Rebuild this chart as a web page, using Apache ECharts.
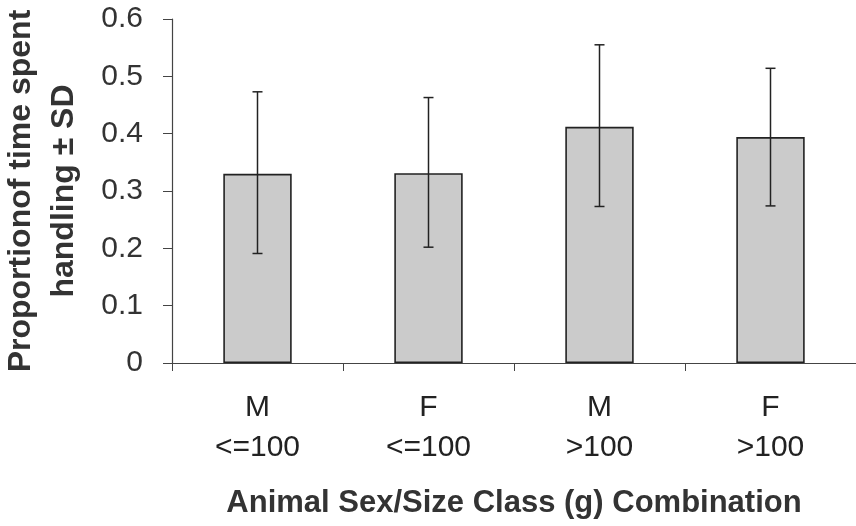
<!DOCTYPE html>
<html>
<head>
<meta charset="utf-8">
<script src="https://cdn.jsdelivr.net/npm/echarts@6/dist/echarts.min.js"></script>
<style>html,body{margin:0;padding:0;background:#fff}#c{width:856px;height:526px}</style>
</head>
<body>
<div id="c"></div>
<script>
var categories = ['M\n<=100', 'F\n<=100', 'M\n>100', 'F\n>100'];
var means = [0.330, 0.331, 0.412, 0.394];
var sdLow = [0.191, 0.202, 0.273, 0.274];
var sdHigh = [0.473, 0.463, 0.555, 0.514];
var yTicks = [0, 0.1, 0.2, 0.3, 0.4, 0.5, 0.6];

var errData = means.map(function (m, i) { return [i, sdLow[i], sdHigh[i]]; });

var chart = echarts.init(document.getElementById('c'), null, { renderer: 'canvas' });
chart.setOption({
  animation: false,
  backgroundColor: '#fff',
  textStyle: { fontFamily: 'Liberation Sans, Arial, sans-serif' },
  grid: { left: 172, right: 0, top: 19, bottom: 163, containLabel: false, outerBoundsMode: 'none' },
  xAxis: {
    type: 'category',
    data: categories,
    boundaryGap: true,
    axisLine: { lineStyle: { color: '#444', width: 1.2 } },
    axisTick: { show: true, interval: 0, length: 8, lineStyle: { color: '#444' } },
    axisLabel: { interval: 0, fontSize: 30, color: '#222', lineHeight: 40, margin: 25 },
    name: 'Animal Sex/Size Class (g) Combination',
    nameLocation: 'middle',
    nameGap: 125,
    nameTextStyle: { fontSize: 31, fontWeight: 'bold', color: '#333' }
  },
  yAxis: {
    type: 'value',
    min: yTicks[0],
    max: yTicks[yTicks.length - 1],
    interval: 0.1,
    splitLine: { show: false },
    axisLine: { show: true, lineStyle: { color: '#444', width: 1.2 } },
    axisTick: { show: true, length: 9, lineStyle: { color: '#444' } },
    axisLabel: { fontSize: 30, color: '#333', margin: 29,
      formatter: function (v) { return String(Math.round(v * 10) / 10); } },
    name: 'Proportionof time spent\nhandling \u00b1 SD',
    nameLocation: 'middle',
    nameGap: 86,
    nameRotate: 90,
    nameTextStyle: { fontSize: 32, fontWeight: 'bold', color: '#333', lineHeight: 43 }
  },
  series: [
    {
      type: 'bar',
      data: means,
      barWidth: '40%',
      itemStyle: { color: '#cbcbcb', borderColor: '#222', borderWidth: 1.6 }
    },
    {
      type: 'custom',
      data: errData,
      z: 10,
      renderItem: function (params, api) {
        var x = api.value(0);
        var lo = api.coord([x, api.value(1)]);
        var hi = api.coord([x, api.value(2)]);
        var hw = 5;
        var st = { stroke: '#222', lineWidth: 1.5 };
        return {
          type: 'group',
          children: [
            { type: 'line', shape: { x1: lo[0], y1: lo[1], x2: hi[0], y2: hi[1] }, style: st },
            { type: 'line', shape: { x1: hi[0] - hw, y1: hi[1], x2: hi[0] + hw, y2: hi[1] }, style: st },
            { type: 'line', shape: { x1: lo[0] - hw, y1: lo[1], x2: lo[0] + hw, y2: lo[1] }, style: st }
          ]
        };
      }
    }
  ]
});
</script>
</body>
</html>
